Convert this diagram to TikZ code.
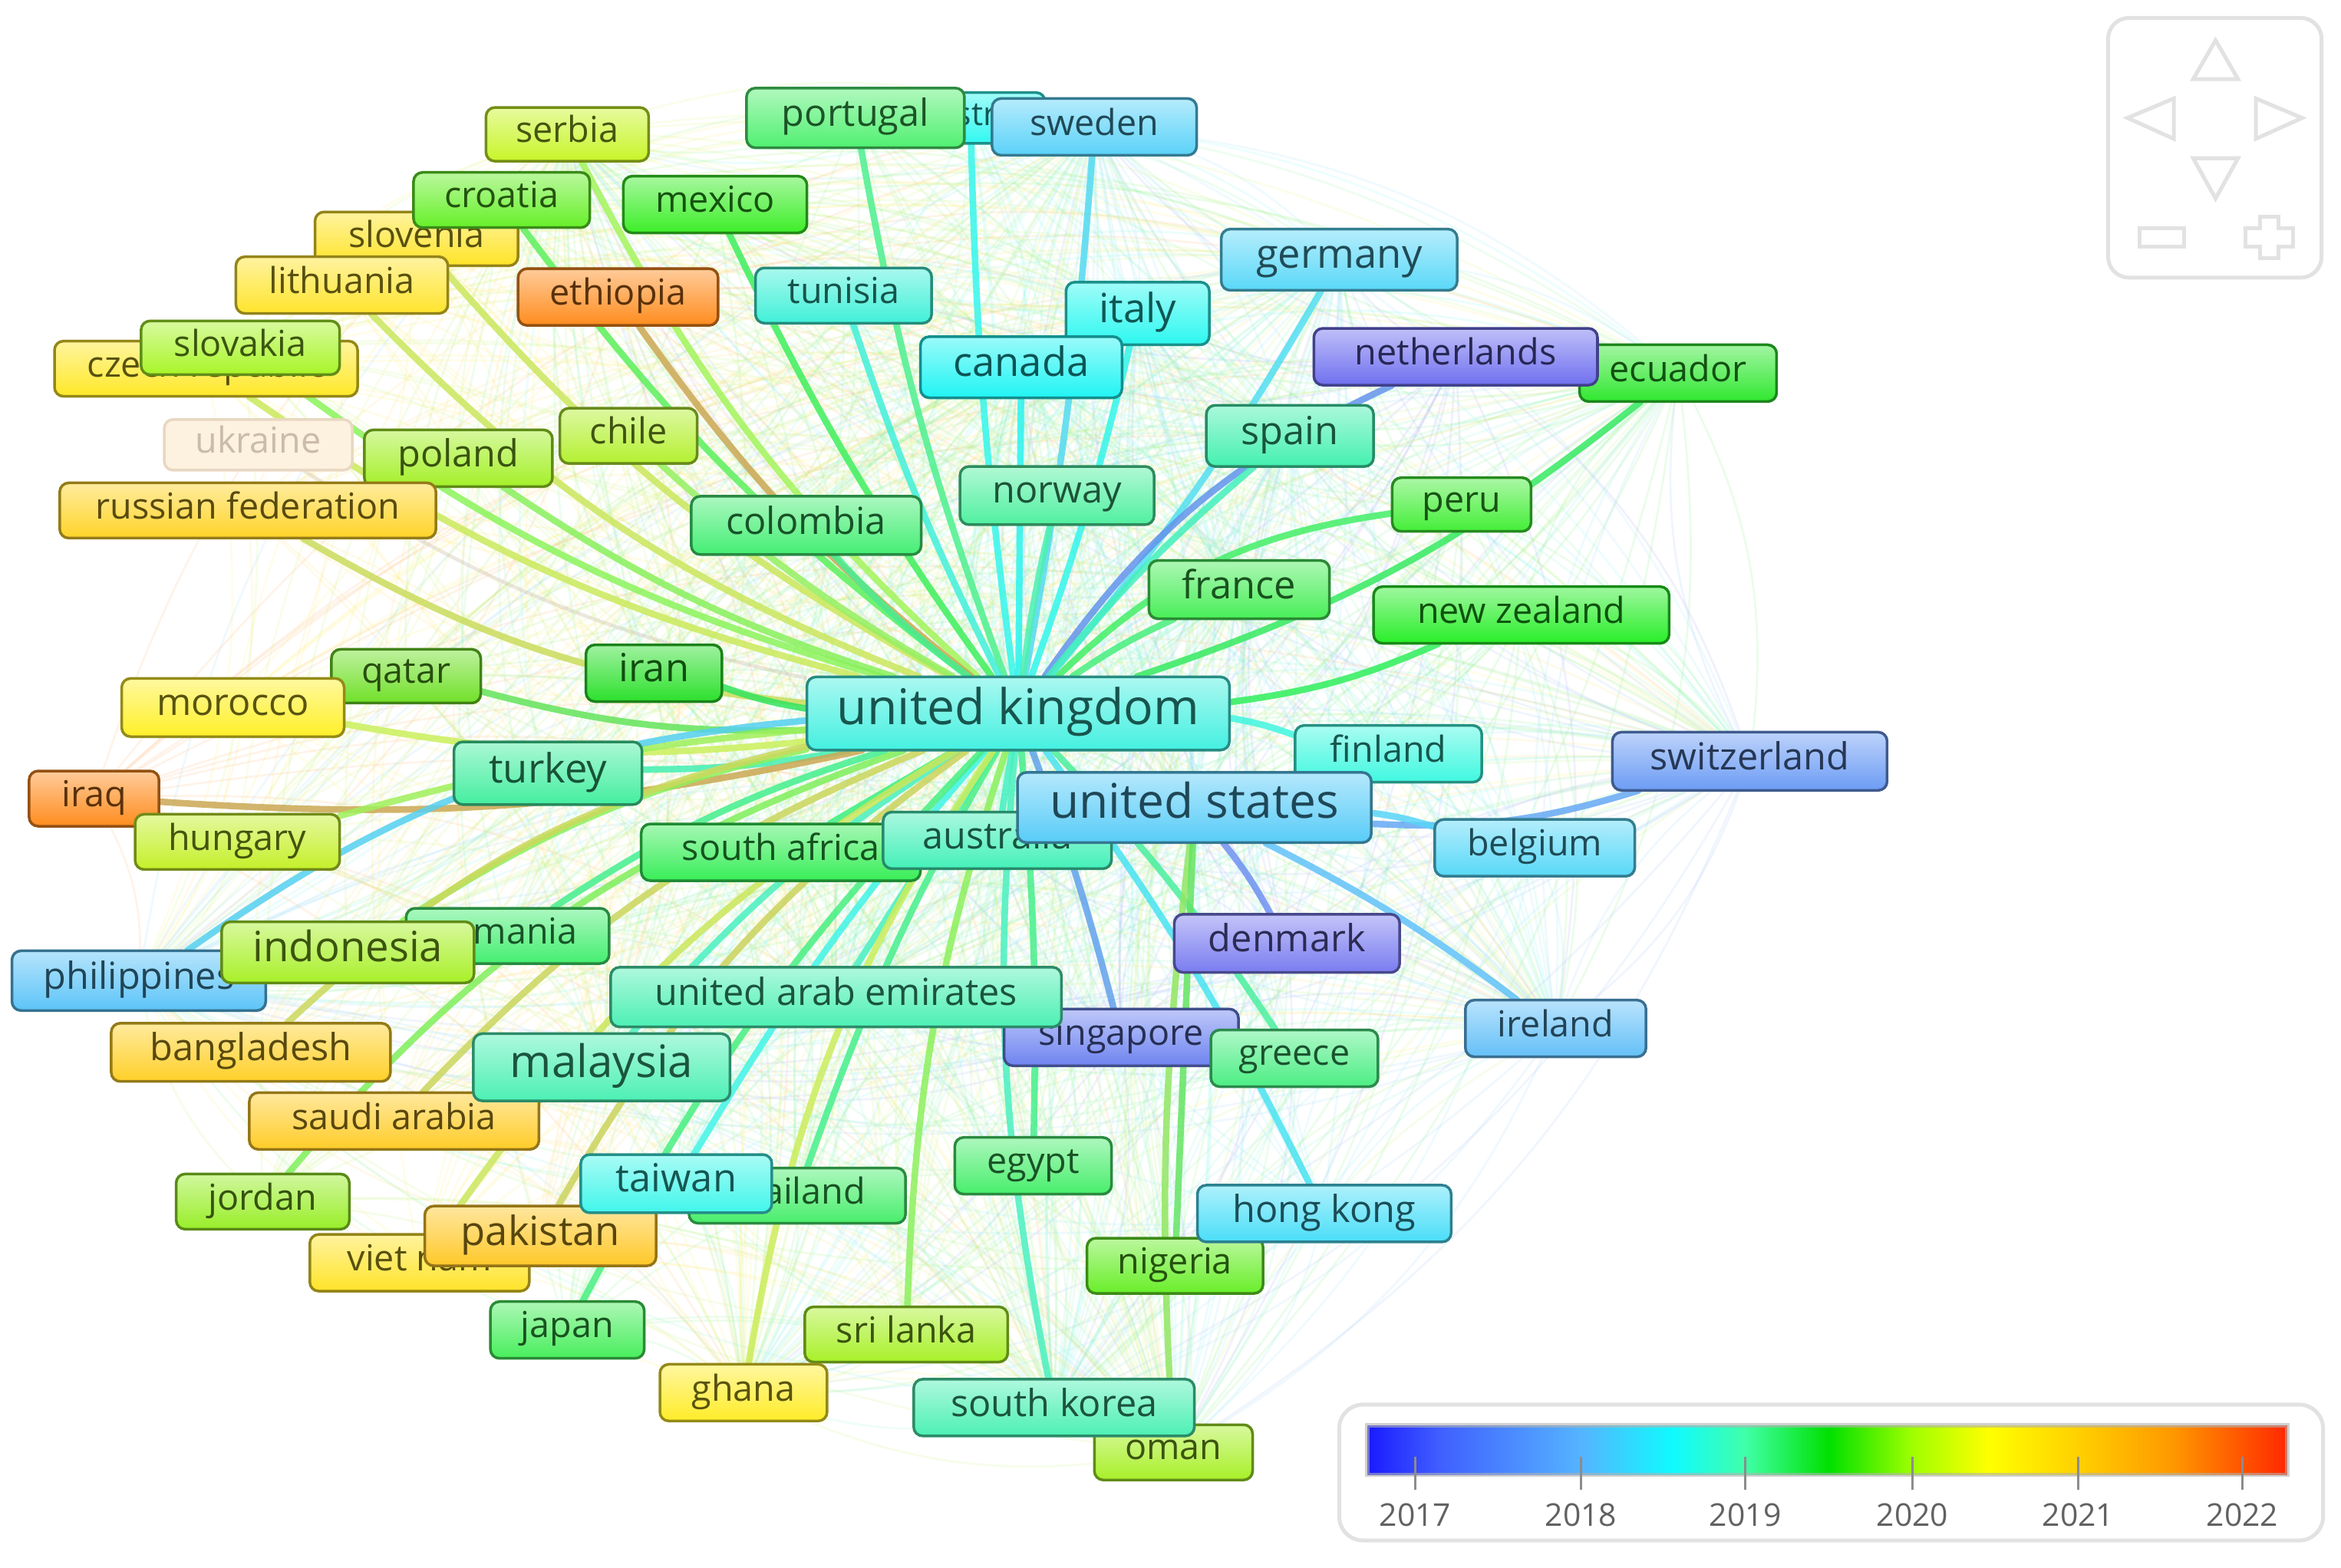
\documentclass[tikz,border=0pt]{standalone}
\usepackage{fontspec}
\setmainfont{Open Sans}
\pgfdeclarelayer{web}
\pgfdeclarelayer{links}
\pgfsetlayers{web,links,main}
% node colours
\definecolor{caustria}{HTML}{30F8F0}
\definecolor{cportugal}{HTML}{50F070}
\definecolor{csweden}{HTML}{5AD2F8}
\definecolor{cserbia}{HTML}{C8F528}
\definecolor{cslovenia}{HTML}{FFE428}
\definecolor{ccroatia}{HTML}{66F028}
\definecolor{cmexico}{HTML}{3CEE28}
\definecolor{clithuania}{HTML}{FFE42C}
\definecolor{cethiopia}{HTML}{FF8C1E}
\definecolor{ctunisia}{HTML}{40F0D8}
\definecolor{cgermany}{HTML}{5AD8F8}
\definecolor{citaly}{HTML}{2CF8F0}
\definecolor{ccanada}{HTML}{20F4F4}
\definecolor{cecuador}{HTML}{30E830}
\definecolor{cnetherlands}{HTML}{7070F0}
\definecolor{cczech}{HTML}{FFE828}
\definecolor{cslovakia}{HTML}{A8F528}
\definecolor{cukraine}{HTML}{FCEBD2}
\definecolor{cpoland}{HTML}{A4F028}
\definecolor{cchile}{HTML}{B4F030}
\definecolor{crussia}{HTML}{FFD428}
\definecolor{ccolombia}{HTML}{44EE74}
\definecolor{cspain}{HTML}{44F0B0}
\definecolor{cnorway}{HTML}{50F0A0}
\definecolor{cperu}{HTML}{44EE38}
\definecolor{cfrance}{HTML}{48EE58}
\definecolor{cnewzealand}{HTML}{28EE28}
\definecolor{ciran}{HTML}{2CE02C}
\definecolor{cqatar}{HTML}{70E028}
\definecolor{cmorocco}{HTML}{FFF028}
\definecolor{cuk}{HTML}{44F0E0}
\definecolor{cfinland}{HTML}{40F8E0}
\definecolor{cswitzerland}{HTML}{6C9CF4}
\definecolor{cturkey}{HTML}{44EEA0}
\definecolor{ciraq}{HTML}{FF8C1E}
\definecolor{cus}{HTML}{58CCF8}
\definecolor{chungary}{HTML}{C4F028}
\definecolor{csouthafrica}{HTML}{38EE58}
\definecolor{caustralia}{HTML}{44F0B8}
\definecolor{cbelgium}{HTML}{58D8F8}
\definecolor{cromania}{HTML}{44EE70}
\definecolor{cindonesia}{HTML}{A8F028}
\definecolor{cphilippines}{HTML}{5CC4F8}
\definecolor{cdenmark}{HTML}{7A7CF0}
\definecolor{cuae}{HTML}{4CF0B4}
\definecolor{cireland}{HTML}{64C0F8}
\definecolor{cbangladesh}{HTML}{FFD028}
\definecolor{cmalaysia}{HTML}{4CF0B4}
\definecolor{csingapore}{HTML}{6E84F0}
\definecolor{cgreece}{HTML}{4CEE84}
\definecolor{csaudi}{HTML}{FFCC28}
\definecolor{cegypt}{HTML}{48EE6C}
\definecolor{ctaiwan}{HTML}{40F6EA}
\definecolor{cthailand}{HTML}{48EE6C}
\definecolor{cjordan}{HTML}{98EE28}
\definecolor{chongkong}{HTML}{4ADEF8}
\definecolor{cpakistan}{HTML}{FFC828}
\definecolor{cvietnam}{HTML}{FFE428}
\definecolor{cnigeria}{HTML}{68EE28}
\definecolor{cjapan}{HTML}{48EE5C}
\definecolor{csrilanka}{HTML}{A8F028}
\definecolor{cghana}{HTML}{FFEC28}
\definecolor{csouthkorea}{HTML}{4CF0B4}
\definecolor{coman}{HTML}{A8F028}
% gradient colours
\definecolor{gA}{HTML}{1A1AFF}
\definecolor{gB}{HTML}{4060FF}
\definecolor{gC}{HTML}{55B4FF}
\definecolor{gD}{HTML}{10FAFF}
\definecolor{gE}{HTML}{40FFA8}
\definecolor{gF}{HTML}{00E000}
\definecolor{gG}{HTML}{A0FF00}
\definecolor{gH}{HTML}{FFFF00}
\definecolor{gI}{HTML}{FFD000}
\definecolor{gJ}{HTML}{FF9800}
\definecolor{gK}{HTML}{FF2800}
\definecolor{widget}{HTML}{E2E2E2}
% picture is drawn at scale 0.25 (1 unit = one pixel of the 1568 px reference)
\tikzset{
  every node/.append style={transform shape},
  cty/.style={rounded corners=1.5pt, line width=0.45pt, draw=#1!58!black,
    top color=#1!45!white, bottom color=#1, text=#1!35!black,
    inner sep=0pt},
  lk/.style={line width=1.1pt, draw=#1, draw opacity=.85, line cap=round},
  webln/.style={line width=0.35pt, draw=#1, draw opacity=.16},
  wdg/.style={draw=widget, line width=0.65pt},
  ticklbl/.style={text=black!62, font=\fontsize{21}{21}\selectfont, inner sep=0pt}
}
\newcommand\cnode[7]{\node[cty=c#1, minimum width=#4, minimum height=#5,
  font=\fontsize{#6}{#6}\selectfont] (#1) at (#2,#3) {\strut #7};}
\newcommand\uklink[2]{\draw[lk={c#1!72!cuk}] (uk) to[bend left=#2] (#1);}
\newcommand\uslink[2]{\draw[lk={c#1!72!cus}] (us) to[bend left=#2] (#1);}
\def\allnodes{austria,portugal,sweden,serbia,slovenia,croatia,mexico,lithuania,ethiopia,tunisia,germany,italy,canada,ecuador,netherlands,czech,slovakia,poland,chile,russia,colombia,spain,norway,peru,france,newzealand,iran,qatar,morocco,uk,finland,switzerland,turkey,iraq,southafrica,australia,us,hungary,belgium,romania,philippines,indonesia,denmark,singapore,uae,greece,ireland,bangladesh,saudi,malaysia,egypt,thailand,jordan,vietnam,pakistan,taiwan,nigeria,hongkong,japan,srilanka,ghana,oman,southkorea}
\def\hubs{us,australia,malaysia,germany,spain,italy,canada,switzerland,ireland,southkorea,sweden,ecuador,oman,ghana,serbia,philippines,uae,france}
\begin{document}
\begin{tikzpicture}[x=0.25pt,y=-0.25pt]
\useasboundingbox (0,0) rectangle (1568,1050);
\begin{pgfonlayer}{web}
\fill[white] (0,0) rectangle (1568,1050);
\end{pgfonlayer}
\begin{scope}
\tikzset{every node/.append style={scale=0.25}}
% ---------- country labels ----------
\cnode{austria}{650}{79}{100}{34}{22}{austria}
\cnode{portugal}{573}{79}{146}{40}{25}{portugal}
\cnode{sweden}{733}{85}{137}{38}{24}{sweden}
\cnode{serbia}{380}{90}{109}{36}{24}{serbia}
\cnode{slovenia}{279}{160}{136}{36}{24}{slovenia}
\cnode{croatia}{336}{134}{118}{37}{24}{croatia}
\cnode{mexico}{479}{137}{123}{38}{24}{mexico}
\cnode{lithuania}{229}{191}{142}{38}{24}{lithuania}
\cnode{ethiopia}{414}{199}{134}{38}{24}{ethiopia}
\cnode{tunisia}{565}{198}{118}{37}{24}{tunisia}
\cnode{germany}{897}{174}{158}{41}{27}{germany}
\cnode{italy}{762}{210}{96}{42}{27}{italy}
\cnode{canada}{684}{246}{135}{41}{27}{canada}
\cnode{ecuador}{1124}{250}{132}{38}{24}{ecuador}
\cnode{netherlands}{975}{239}{190}{38}{24}{netherlands}
\cnode{czech}{138}{247}{203}{37}{24}{czech republic}
\cnode{slovakia}{161}{233}{133}{36}{24}{slovakia}
\node[rounded corners=1.5pt, line width=0.45pt, draw=cukraine!92!black, fill=cukraine!70!white,
  text=cukraine!80!black, inner sep=0pt, minimum width=126, minimum height=34,
  font=\fontsize{24}{24}\selectfont] (ukraine) at (173,298) {\strut ukraine};
\cnode{poland}{307}{307}{126}{38}{25}{poland}
\cnode{chile}{421}{292}{92}{37}{24}{chile}
\cnode{russia}{166}{342}{252}{37}{24}{russian federation}
\cnode{colombia}{540}{352}{154}{39}{25}{colombia}
\cnode{spain}{864}{292}{112}{41}{26}{spain}
\cnode{norway}{708}{332}{130}{39}{25}{norway}
\cnode{peru}{979}{338}{93}{36}{24}{peru}
\cnode{france}{830}{395}{121}{39}{26}{france}
\cnode{newzealand}{1019}{412}{198}{38}{24}{new zealand}
\cnode{iran}{438}{451}{91}{38}{26}{iran}
\cnode{qatar}{272}{453}{100}{36}{24}{qatar}
\cnode{morocco}{156}{474}{149}{39}{25}{morocco}
\cnode{uk}{682}{478}{283}{49}{33}{united kingdom}
\cnode{finland}{930}{505}{125}{38}{24}{finland}
\cnode{switzerland}{1172}{510}{184}{39}{25}{switzerland}
\cnode{turkey}{367}{518}{126}{42}{27}{turkey}
\cnode{iraq}{63}{535}{87}{37}{24}{iraq}
\cnode{southafrica}{523}{571}{187}{38}{24}{south africa}
\cnode{australia}{668}{563}{153}{38}{25}{australia}
\cnode{us}{800}{541}{237}{47}{32}{united states}
\cnode{hungary}{159}{564}{137}{37}{24}{hungary}
\cnode{belgium}{1028}{568}{134}{38}{24}{belgium}
\cnode{romania}{340}{627}{136}{37}{24}{romania}
\cnode{philippines}{93}{657}{170}{40}{25}{philippines}
\cnode{indonesia}{233}{638}{169}{41}{28}{indonesia}
\cnode{denmark}{862}{632}{151}{39}{25}{denmark}
\cnode{singapore}{751}{695}{157}{38}{24}{singapore}
\cnode{uae}{560}{668}{302}{40}{25}{united arab emirates}
\cnode{greece}{867}{709}{112}{38}{24}{greece}
\cnode{ireland}{1042}{689}{121}{38}{24}{ireland}
\cnode{bangladesh}{168}{705}{187}{39}{25}{bangladesh}
\cnode{saudi}{264}{751}{194}{38}{24}{saudi arabia}
\cnode{malaysia}{403}{715}{172}{45}{30}{malaysia}
\cnode{egypt}{692}{781}{105}{38}{24}{egypt}
\cnode{thailand}{534}{801}{145}{37}{24}{thailand}
\cnode{jordan}{176}{805}{116}{37}{24}{jordan}
\cnode{vietnam}{281}{846}{147}{38}{24}{viet nam}
\cnode{pakistan}{362}{828}{155}{40}{27}{pakistan}
\cnode{taiwan}{453}{793}{128}{39}{26}{taiwan}
\cnode{nigeria}{787}{848}{118}{37}{24}{nigeria}
\cnode{hongkong}{887}{813}{170}{38}{25}{hong kong}
\cnode{japan}{380}{891}{103}{38}{24}{japan}
\cnode{srilanka}{607}{894}{136}{37}{24}{sri lanka}
\cnode{ghana}{498}{933}{112}{38}{24}{ghana}
\cnode{oman}{786}{973}{106}{37}{24}{oman}
\cnode{southkorea}{706}{943}{188}{38}{25}{south korea}
\end{scope}

% ---------- faint background web ----------
\begin{pgfonlayer}{web}
\foreach \a in \allnodes {
  \foreach \b in \hubs {
    \edef\ta{\a}\edef\tb{\b}%
    \ifx\ta\tb\else
      \draw[webln=c\a!60!white] (\a.center) to[bend left=18] (\b.center);
    \fi
  }
}
\end{pgfonlayer}

% ---------- main links ----------
\begin{pgfonlayer}{links}
\uklink{serbia}{10}
\uklink{croatia}{8}
\uklink{mexico}{5}
\uklink{portugal}{5}
\uklink{austria}{3}
\uklink{sweden}{-3}
\uklink{slovenia}{10}
\uklink{lithuania}{12}
\uklink{ethiopia}{8}
\uklink{tunisia}{4}
\uklink{germany}{-5}
\uklink{italy}{-3}
\uklink{canada}{0}
\uklink{ecuador}{-10}
\uklink{netherlands}{15}
\uklink{czech}{10}
\uklink{slovakia}{10}
\uklink{poland}{8}
\uklink{chile}{6}
\uklink{russia}{12}
\uklink{colombia}{5}
\uklink{spain}{5}
\uklink{norway}{3}
\uklink{peru}{18}
\uklink{france}{5}
\uklink{newzealand}{-8}
\uklink{iran}{5}
\uklink{qatar}{8}
\uklink{morocco}{8}
\uklink{finland}{5}
\uklink{turkey}{5}
\uklink{iraq}{8}
\uklink{southafrica}{0}
\uklink{australia}{0}
\uklink{hungary}{-5}
\uklink{romania}{-8}
\uklink{indonesia}{-10}
\uklink{philippines}{-15}
\uklink{singapore}{3}
\uklink{uae}{0}
\uklink{greece}{5}
\uklink{bangladesh}{-15}
\uklink{saudi}{-12}
\uklink{malaysia}{-8}
\uklink{egypt}{3}
\uklink{thailand}{-5}
\uklink{jordan}{-15}
\uklink{vietnam}{-12}
\uklink{pakistan}{-12}
\uklink{taiwan}{-5}
\uklink{hongkong}{5}
\uklink{japan}{-8}
\uklink{srilanka}{-8}
\uklink{ghana}{-12}
\uklink{southkorea}{-8}
\draw[line width=0.6pt, draw=cukraine!80!black, draw opacity=.35] (uk) to[bend left=10] (ukraine);
\uslink{switzerland}{-10}
\uslink{ireland}{5}
\uslink{denmark}{5}
\uslink{belgium}{5}
\uslink{oman}{-5}
\uslink{nigeria}{0}
\uslink{finland}{0}
\end{pgfonlayer}

% ---------- navigation widget ----------
\draw[wdg, rounded corners=3.5pt, fill=white] (1412,12) rectangle (1555,186);
\draw[wdg] (1484,27) -- (1469,53) -- (1499,53) -- cycle;
\draw[wdg] (1484,133) -- (1469,106) -- (1499,106) -- cycle;
\draw[wdg] (1425,79) -- (1456,66) -- (1456,93) -- cycle;
\draw[wdg] (1542,79) -- (1511,66) -- (1511,93) -- cycle;
\draw[wdg] (1433,153) rectangle (1463,165);
\draw[wdg] (1514,145) -- (1526,145) -- (1526,153) -- (1536,153) -- (1536,165)
  -- (1526,165) -- (1526,173) -- (1514,173) -- (1514,165) -- (1504,165)
  -- (1504,153) -- (1514,153) -- cycle;

% ---------- colour legend ----------
\draw[wdg, rounded corners=4pt, fill=white] (897,941) rectangle (1556,1032);
\shade[left color=gA, right color=gB] (916,955) rectangle (965,988);
\shade[left color=gB, right color=gC] (965,955) rectangle (1059,988);
\shade[left color=gC, right color=gD] (1059,955) rectangle (1120,988);
\shade[left color=gD, right color=gE] (1120,955) rectangle (1169,988);
\shade[left color=gE, right color=gF] (1169,955) rectangle (1225,988);
\shade[left color=gF, right color=gG] (1225,955) rectangle (1281,988);
\shade[left color=gG, right color=gH] (1281,955) rectangle (1332,988);
\shade[left color=gH, right color=gI] (1332,955) rectangle (1392,988);
\shade[left color=gI, right color=gJ] (1392,955) rectangle (1455,988);
\shade[left color=gJ, right color=gK] (1455,955) rectangle (1532,988);
\draw[black!30, draw opacity=.6, line width=0.75pt] (916,955) rectangle (1532,988);
\foreach \yr/\xx in {2017/948,2018/1059,2019/1169,2020/1281,2021/1392,2022/1502} {
  \draw[black!45, line width=0.4pt] (\xx,976) -- (\xx,998);
  \node[ticklbl, scale=0.25] (t\yr) at (\xx,1015) {\yr};
}
\end{tikzpicture}
\end{document}
